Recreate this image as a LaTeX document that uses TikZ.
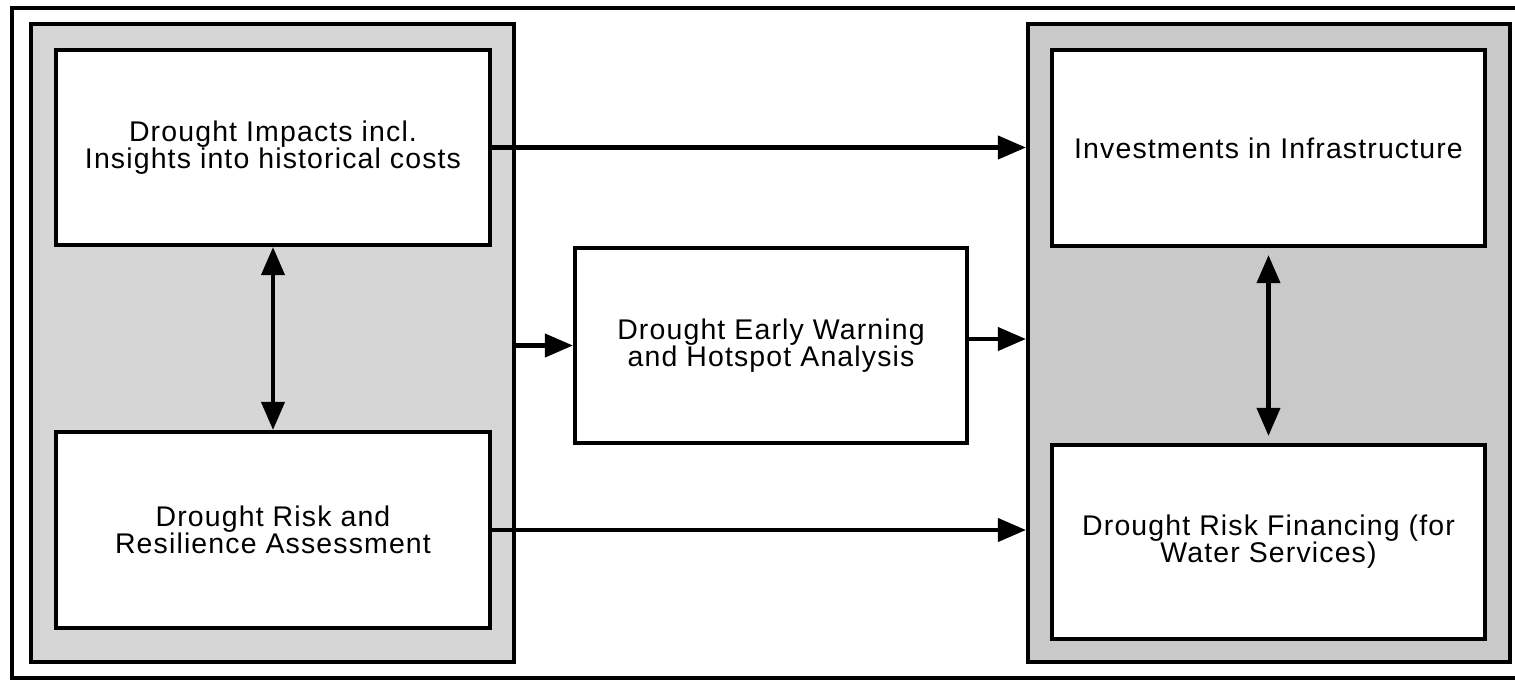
\documentclass[tikz,border=0pt]{standalone}
\usepackage{fontspec}
\setmainfont{Liberation Sans}[LetterSpace=4]
\usepackage{tikz}
\usetikzlibrary{
	arrows.meta,									% 提供各种箭头样式
	calc,											% 坐标计算
	positioning,									% 节点的高级摆放
}
\definecolor{panelL}{gray}{0.84}
\definecolor{panelR}{gray}{0.79}
\newcommand{\boxfont}{\fontsize{16.2}{15.4}\selectfont\lineskiplimit=-4pt\relax}

\begin{document}
\begin{tikzpicture}[x=0.02cm, y=-0.02cm,
		panel/.style={draw, line width=2.3pt, inner sep=0pt},
		box/.style={draw, fill=white, line width=2.3pt, align=center, inner sep=0pt, font=\boxfont},
		arr/.style={line width=2.6pt, -{Triangle[length=16pt, width=13pt]}},
		darr/.style={line width=2.6pt, {Triangle[length=16pt, width=13pt]}-{Triangle[length=16pt, width=13pt]}},
	]
	\useasboundingbox (0,0) rectangle (1515,681);
	\draw[line width=1.8pt] (12,8) rectangle (1540,678);
	% 左右两个灰色区域
	\node[panel, fill=panelL, minimum width=9.66cm, minimum height=12.76cm] (leftpanel) at (272.5,343) {};
	\node[panel, fill=panelR, minimum width=9.64cm, minimum height=12.76cm] (rightpanel) at (1269,343) {};
	% 各个方框
	\node[box, minimum width=8.68cm, minimum height=3.9cm] (impacts) at (273,147.5) {Drought Impacts incl.\\Insights into historical costs};
	\node[box, minimum width=8.68cm, minimum height=3.92cm] (riskassess) at (273,530) {Drought Risk and\\Resilience Assessment};
	\node[box, minimum width=7.84cm, minimum height=3.9cm] (warning) at (771,345.5) {Drought Early Warning\\and Hotspot Analysis};
	\node[box, minimum width=8.66cm, minimum height=3.92cm] (invest) at (1268.5,148) {Investments in Infrastructure};
	\node[box, minimum width=8.66cm, minimum height=3.88cm] (financing) at (1268.5,542) {Drought Risk Financing (for\\Water Services)};
	% 箭头
	\draw[arr] (impacts.east) -- (impacts.east -| rightpanel.west);
	\draw[arr] (riskassess.east) -- (riskassess.east -| rightpanel.west);
	\draw[arr] (leftpanel.east |- warning.west) -- (warning.west);
	\draw[arr] ($(warning.east)+(0,-6.5)$) -- ($(warning.east -| rightpanel.west)+(0,-6.5)$);
	\draw[darr] (impacts.south) -- (riskassess.north);
	\draw[darr, shorten <=4pt, shorten >=4pt] (invest.south) -- (financing.north);
\end{tikzpicture}
\end{document}
